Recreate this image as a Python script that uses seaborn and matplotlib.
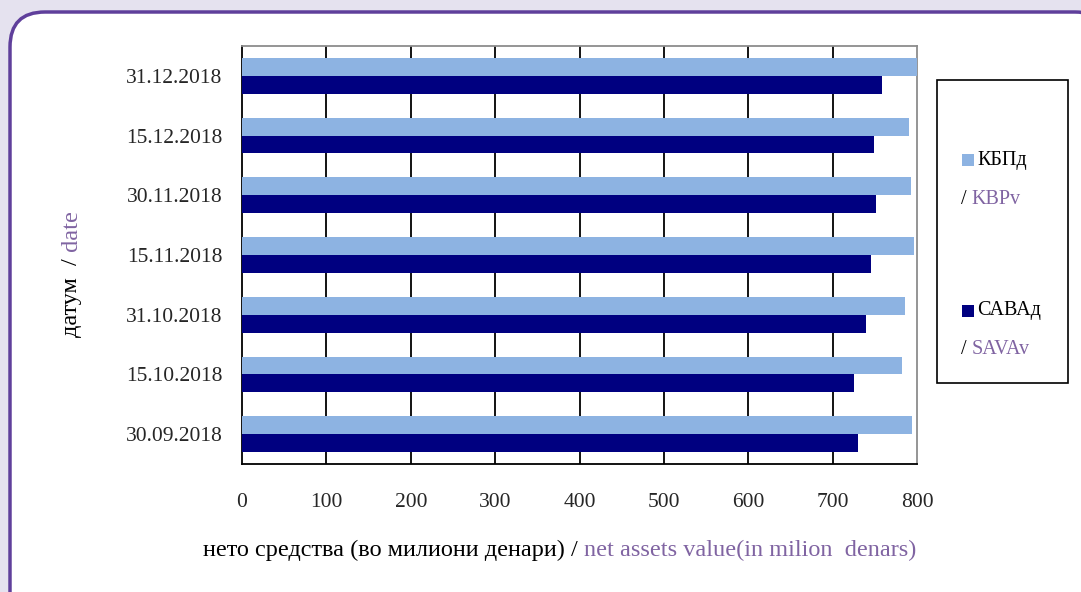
import pandas as pd
import numpy as np
import matplotlib.pyplot as plt
import matplotlib.patches as mpatches
from matplotlib.text import Annotation
from matplotlib.transforms import IdentityTransform
import seaborn as sns

# data
dates = ['31.12.2018', '15.12.2018', '30.11.2018', '15.11.2018',
         '31.10.2018', '15.10.2018', '30.09.2018']
kbp_values = [800, 790, 793, 796, 786, 782, 794]
sava_values = [758, 749, 752, 746, 740, 725, 730]
funds = ['КБПд', 'САВАд']
funds_en = ['KBPv', 'SAVAv']
x_ticks = [0, 100, 200, 300, 400, 500, 600, 700, 800]

light = '#8DB3E2'
dark = '#000080'
purple = '#8064A2'

df = pd.DataFrame({'date': dates, funds[0]: kbp_values, funds[1]: sava_values})
df = df.melt(id_vars='date', var_name='fund', value_name='value')

sns.set_style('white')
plt.rcParams['font.family'] = ['Liberation Serif', 'DejaVu Serif']

fig = plt.figure(figsize=(10.81, 5.92), dpi=100)
fig.patch.set_facecolor('#E5E2EF')

# white rounded panel with purple border
panel = mpatches.FancyBboxPatch((10, -60), 1100, 640,
                                boxstyle='round,pad=0,rounding_size=35',
                                transform=IdentityTransform(),
                                facecolor='white', edgecolor='#5F3F9B',
                                linewidth=2.5, zorder=-5)
fig.patches.append(panel)

ax = fig.add_axes([242 / 1081, 1 - 464 / 592, (917 - 242) / 1081, (464 - 46) / 592])
ax.set_facecolor('white')

sns.barplot(data=df, x='value', y='date', hue='fund', order=dates,
            hue_order=funds, palette=[light, dark], width=0.6,
            saturation=1, orient='h', legend=False, ax=ax, zorder=3,
            linewidth=0, edgecolor='none')

ax.set_xlim(0, 800)
ax.set_ylim(len(dates) - 0.5, -0.5)
ax.set_xticks(x_ticks)
ax.set_xticklabels([str(t) for t in x_ticks], fontsize=15.5)
ax.tick_params(axis='x', direction='out', length=5, width=1.2, pad=16, color='black')

ax.set_yticks(range(len(dates)))
ax.set_yticklabels(dates, fontsize=15.5)
ax.set_yticks(np.arange(-0.5, len(dates), 1), minor=True)
ax.tick_params(axis='y', which='major', length=0, pad=14)
ax.tick_params(axis='y', which='minor', direction='out', length=5, width=1.2, color='black')

for t in x_ticks[1:-1]:
    ax.axvline(t, color='black', linewidth=1.3, zorder=1)

ax.set_xlabel('')
ax.set_ylabel('')
for side in ['left', 'bottom']:
    ax.spines[side].set_color('black')
    ax.spines[side].set_linewidth(1.3)
for side in ['top', 'right']:
    ax.spines[side].set_color('#8C8C8C')
    ax.spines[side].set_linewidth(1.3)


def add_after(prev, text, xy, **kw):
    # text placed right after another text, in purple
    ann = Annotation(text, xy=xy, xycoords=prev, color=purple, **kw)
    fig.add_artist(ann)
    return ann


# x axis title in two colours
t1 = fig.text(203 / 1081, 1 - 556 / 592, 'нето средства (во милиони денари) / ',
              fontsize=17.5, color='black', ha='left', va='baseline')
add_after(t1, 'net assets value(in milion  denars)', (1, 0),
          fontsize=17.5, ha='left', va='bottom')

# y axis title in two colours
t2 = fig.text(72 / 1081, 1 - 337 / 592, 'датум  /', fontsize=17.5, color='black',
              rotation=90, ha='center', va='bottom')
add_after(t2, ' date', (0.5, 1), fontsize=17.5, rotation=90, ha='center', va='bottom')

# legend box
leg = mpatches.Rectangle((937, 592 - 383), 1068 - 937, 383 - 80,
                         transform=IdentityTransform(), facecolor='white',
                         edgecolor='black', linewidth=1.2, zorder=5)
fig.patches.append(leg)
for i, (name, name_en, col) in enumerate(zip(funds, funds_en, [light, dark])):
    y0 = 160 + i * 151
    sq = mpatches.Rectangle((962, 592 - y0 - 6), 12, 12, transform=IdentityTransform(),
                            facecolor=col, edgecolor='none', zorder=6)
    fig.patches.append(sq)
    fig.text(977 / 1081, 1 - y0 / 592, name, fontsize=14.5, color='black',
             ha='left', va='center', zorder=7)
    s = fig.text(961 / 1081, 1 - (y0 + 39) / 592, '/ ', fontsize=14.5, color='black',
                 ha='left', va='center', zorder=7)
    add_after(s, name_en, (1, 0), fontsize=14.5, ha='left', va='bottom', zorder=7)

fig.savefig('out.png', dpi=100, facecolor=fig.get_facecolor())
